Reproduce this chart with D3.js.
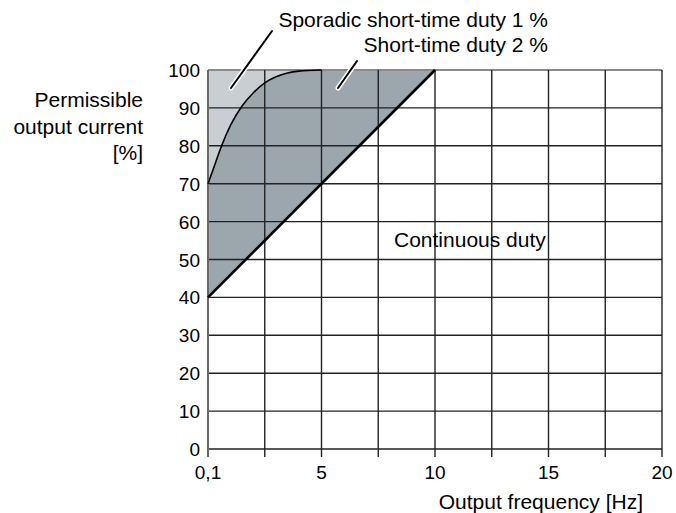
<!DOCTYPE html>
<html>
<head>
<meta charset="utf-8">
<script src="https://cdn.jsdelivr.net/npm/d3@7"></script>
<style>
  html, body { margin: 0; padding: 0; background: #fff; }
  svg { display: block; font-family: "Liberation Sans", Arial, sans-serif; }
</style>
</head>
<body>
<svg id="chart" width="676" height="513"></svg>
<script>
// Frequency ticks (Hz) and their printed labels
const xTicks = [0, 2.5, 5, 7.5, 10, 12.5, 15, 17.5, 20];
const xTickLabels = { 0: "0,1", 5: "5", 10: "10", 15: "15", 20: "20" };
// Current ticks (%)
const yTicks = [0, 10, 20, 30, 40, 50, 60, 70, 80, 90, 100];

// Continuous duty limit: straight line
const continuousFreq = [0, 10];
const continuousCurrent = [40, 100];

// Short-time duty 2 % limit curve
const shortFreq = [0, 0.3, 0.6, 1.0, 1.5, 2.0, 2.5, 3.0, 3.5, 4.0, 5.0, 10];
const shortCurrent = [70, 75, 80, 85.5, 90.5, 94, 96.6, 98.2, 99.2, 99.7, 100, 100];

// Sporadic short-time duty 1 % upper bound
const sporadicCurrent = 100;

const svg = d3.select("#chart");
const plotL = 208, plotR = 662, plotT = 70, plotB = 449;

const x = d3.scaleLinear().domain([0, 20]).range([plotL, plotR]);
const y = d3.scaleLinear().domain([0, 100]).range([plotB, plotT]);

const shortPts = shortFreq.map((f, i) => [f, shortCurrent[i]]);
const contLine = d3.scaleLinear().domain(continuousFreq).range(continuousCurrent);

// Light area: between the short-time curve and 100 %
const lightArea = d3.area()
  .x(d => x(d[0]))
  .y0(d => y(d[1]))
  .y1(() => y(sporadicCurrent))
  .curve(d3.curveMonotoneX);
svg.append("path")
  .datum(shortPts.filter(d => d[0] <= 5))
  .attr("d", lightArea)
  .attr("fill", "#c9ced3");

// Dark area: between the continuous line and the short-time curve
const darkArea = d3.area()
  .x(d => x(d[0]))
  .y0(d => y(contLine(d[0])))
  .y1(d => y(d[1]))
  .curve(d3.curveMonotoneX);
svg.append("path")
  .datum(shortPts)
  .attr("d", darkArea)
  .attr("fill", "#9ba6ad");

// Grid
const grid = svg.append("g");
yTicks.forEach(t => {
  grid.append("line")
    .attr("x1", plotL).attr("x2", plotR)
    .attr("y1", y(t)).attr("y2", y(t))
    .attr("stroke", t === 100 ? "#8a8a8a" : "#222")
    .attr("stroke-width", t === 100 ? 2 : 1.4);
});
xTicks.forEach(t => {
  grid.append("line")
    .attr("x1", x(t)).attr("x2", x(t))
    .attr("y1", plotT).attr("y2", plotB + 8)
    .attr("stroke", t === 0 ? "#6a6a6a" : "#222")
    .attr("stroke-width", t === 0 ? 2 : 1.4);
});

// Limit lines
svg.append("path")
  .datum(shortPts.filter(d => d[0] <= 5))
  .attr("d", d3.line().x(d => x(d[0])).y(d => y(d[1])).curve(d3.curveMonotoneX))
  .attr("fill", "none")
  .attr("stroke", "#000")
  .attr("stroke-width", 1.6);

svg.append("line")
  .attr("x1", x(continuousFreq[0])).attr("y1", y(continuousCurrent[0]))
  .attr("x2", x(continuousFreq[1])).attr("y2", y(continuousCurrent[1]))
  .attr("stroke", "#000")
  .attr("stroke-width", 2.6);

// Tick labels
const tickFs = 19;
const textFs = 21;
svg.append("g").selectAll("text")
  .data(yTicks).join("text")
  .attr("x", 200).attr("y", d => y(d) + 7)
  .attr("text-anchor", "end")
  .attr("font-size", tickFs)
  .text(d => d);

svg.append("g").selectAll("text")
  .data(xTicks.filter(t => xTickLabels[t] !== undefined)).join("text")
  .attr("x", d => x(d)).attr("y", 479)
  .attr("text-anchor", "middle")
  .attr("font-size", tickFs)
  .text(d => xTickLabels[d]);

// Axis titles
svg.append("text")
  .attr("x", 643).attr("y", 509)
  .attr("text-anchor", "end")
  .attr("font-size", textFs)
  .text("Output frequency [Hz]");

const yTitle = svg.append("text")
  .attr("text-anchor", "end")
  .attr("font-size", textFs);
["Permissible", "output current", "[%]"].forEach((s, i) => {
  yTitle.append("tspan").attr("x", 143).attr("y", 107 + i * 26.5).text(s);
});

// Region labels with leaders
function leader(x1, y1, x2, y2) {
  svg.append("line").attr("x1", x1).attr("y1", y1).attr("x2", x2).attr("y2", y2)
    .attr("stroke", "#fff").attr("stroke-width", 5).attr("stroke-linecap", "round");
  svg.append("line").attr("x1", x1).attr("y1", y1).attr("x2", x2).attr("y2", y2)
    .attr("stroke", "#000").attr("stroke-width", 2).attr("stroke-linecap", "round");
}
leader(231, 88, 272, 31);
leader(338, 88, 357, 61);

svg.append("text").attr("x", 548).attr("y", 26.5)
  .attr("text-anchor", "end").attr("font-size", textFs)
  .text("Sporadic short-time duty 1 %");
svg.append("text").attr("x", 548).attr("y", 52)
  .attr("text-anchor", "end").attr("font-size", textFs)
  .text("Short-time duty 2 %");

svg.append("text").attr("x", 394).attr("y", 247)
  .attr("font-size", textFs)
  .text("Continuous duty");
</script>
</body>
</html>
